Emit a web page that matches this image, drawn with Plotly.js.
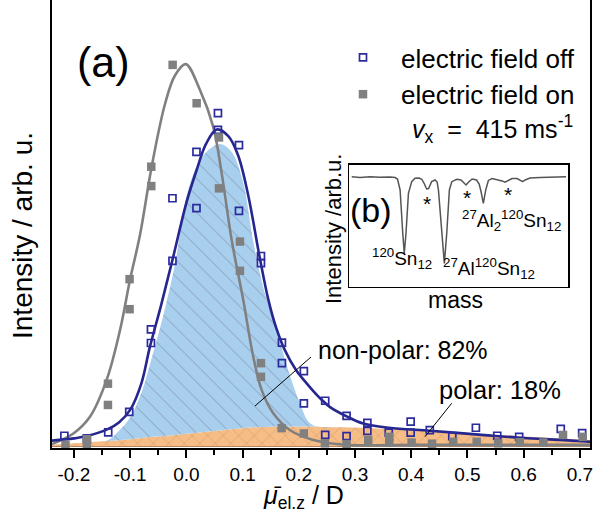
<!DOCTYPE html>
<html>
<head>
<meta charset="utf-8">
<script src="https://cdn.plot.ly/plotly-3.0.1.min.js"></script>
<style>
  html, body { margin: 0; padding: 0; background: #fff; }
  #chart { width: 593px; height: 517px; }
</style>
</head>
<body>
<div id="chart"></div>
<script>
// Deflection profiles: dipole moment (D) vs intensity (arb. u.)
const offX = [-0.217, -0.177, -0.139, -0.1016, -0.063, -0.063, -0.0247, -0.0247, 0.018, 0.018,
              0.0562, 0.0562, 0.0936, 0.0936, 0.1327, 0.1327, 0.170, 0.170, 0.209, 0.209,
              0.247, 0.247, 0.285, 0.285, 0.322, 0.322, 0.360, 0.399, 0.399, 0.433,
              0.473, 0.515, 0.553, 0.592, 0.666, 0.704];
const offY = [0.027, 0.020, 0.036, 0.090, 0.271, 0.307, 0.487, 0.652, 0.774, 0.626,
              0.876, 0.832, 0.792, 0.619, 0.500, 0.481, 0.272, 0.218, 0.197, 0.112,
              0.119, 0.029, 0.079, 0.026, 0.061, 0.040, 0.035, 0.064, 0.035, 0.042,
              0.026, 0.048, 0.027, 0.024, 0.045, 0.034];

const onX = [-0.215, -0.177, -0.177, -0.1395, -0.1395, -0.101, -0.101, -0.0624, -0.0624, -0.0244,
             0.0183, 0.058, 0.058, 0.0953, 0.0953, 0.1327, 0.1327, 0.1695, 0.209, 0.2465,
             0.285, 0.3235, 0.361, 0.361, 0.4007, 0.437, 0.4747, 0.5164, 0.5548, 0.593,
             0.635, 0.670, 0.705];
const onY = [0.003, 0.018, 0.003, 0.164, 0.108, 0.439, 0.360, 0.735, 0.684, 1.003,
             0.902, 0.812, 0.678, 0.538, 0.461, 0.218, 0.182, 0.047, 0.033, 0.007,
             0.005, 0.016, 0.024, 0.009, 0.009, 0.006, 0.011, 0.011, 0.007, 0.010,
             0.009, 0.029, 0.024];

// Fitted profiles
const fitOffX = [-0.239, -0.2, -0.177, -0.139, -0.12, -0.10, -0.08, -0.065, -0.045, -0.023,
                 0.0, 0.018, 0.035, 0.054, 0.075, 0.092, 0.11, 0.13, 0.146, 0.16,
                 0.175, 0.195, 0.214, 0.235, 0.255, 0.285, 0.315, 0.36, 0.433, 0.52,
                 0.60, 0.665, 0.718];
const fitOffY = [0.014, 0.020, 0.026, 0.045, 0.062, 0.095, 0.165, 0.26, 0.37, 0.50,
                 0.64, 0.725, 0.795, 0.833, 0.815, 0.765, 0.66, 0.50, 0.384, 0.31,
                 0.253, 0.20, 0.165, 0.13, 0.103, 0.078, 0.059, 0.048, 0.040, 0.030,
                 0.021, 0.016, 0.011];

const fitOnX = [-0.239, -0.201, -0.1715, -0.1418, -0.118, -0.1003, -0.0825, -0.0617, -0.038, -0.0203,
                -0.0012, 0.0242, 0.0478, 0.0628, 0.0806, 0.1012, 0.119, 0.134, 0.1546, 0.184,
                0.2257, 0.285, 0.40, 0.55, 0.718];
const fitOnY = [0.005, 0.033, 0.077, 0.174, 0.305, 0.437, 0.555, 0.735, 0.90, 0.975,
                1.005, 0.937, 0.84, 0.718, 0.542, 0.384, 0.235, 0.147, 0.086, 0.042,
                0.016, 0.003, 0.003, 0.003, 0.003];

// Decomposition into polar and non-polar parts (stacked)
const compX = [-0.239, -0.2, -0.16, -0.14, -0.12, -0.10, -0.08, -0.06, -0.04, -0.02,
               0.0, 0.02, 0.04, 0.06, 0.08, 0.10, 0.12, 0.14, 0.16, 0.18,
               0.20, 0.22, 0.24, 0.28, 0.34, 0.40, 0.46, 0.52, 0.58, 0.64, 0.718];
const polarY = [0.003, 0.007, 0.011, 0.013, 0.015, 0.018, 0.021, 0.024, 0.026, 0.029,
                0.032, 0.035, 0.038, 0.041, 0.044, 0.047, 0.049, 0.050, 0.051, 0.051,
                0.051, 0.051, 0.050, 0.049, 0.046, 0.042, 0.038, 0.032, 0.027, 0.022, 0.016];
const nonpolarY = [0, 0, 0, 0.002, 0.025, 0.057, 0.119, 0.216, 0.324, 0.451,
                   0.623, 0.705, 0.742, 0.754, 0.731, 0.653, 0.481, 0.350, 0.259, 0.154,
                   0.069, 0.009, 0, 0, 0, 0, 0, 0, 0, 0, 0];
const nonpolarShare = 82;
const polarShare = 18;

// Inset: mass spectrum
const massX = [1.1, 4.9, 9.5, 14.0, 18.6, 20.9, 22.0, 23.2, 24.4, 25.1,
               25.9, 27.0, 28.5, 30.0, 31.8, 33.1, 34.1, 35.3, 36.2, 37.6,
               39.2, 40.1, 40.7, 42.2, 43.4, 44.5, 45.7, 46.8, 49.1, 51.0,
               52.2, 53.3, 54.5, 56.1, 58.1, 59.3, 60.2, 61.2, 62.3, 63.5,
               65.2, 67.5, 69.8, 71.1, 72.5, 74.3, 76.6, 78.2, 79.2, 80.3,
               82.5, 87.1, 91.7, 96.3, 99.0];
const massY = [0.904, 0.897, 0.903, 0.899, 0.902, 0.897, 0.885, 0.795, 0.441, 0.274,
               0.441, 0.767, 0.863, 0.891, 0.893, 0.883, 0.852, 0.803, 0.807, 0.863,
               0.877, 0.860, 0.795, 0.439, 0.192, 0.439, 0.795, 0.863, 0.883, 0.877,
               0.856, 0.836, 0.860, 0.885, 0.877, 0.844, 0.778, 0.685, 0.795, 0.873,
               0.889, 0.881, 0.869, 0.858, 0.873, 0.889, 0.889, 0.877, 0.863, 0.877,
               0.893, 0.897, 0.901, 0.906, 0.903];

const tickVals = [-0.2, -0.1, 0.0, 0.1, 0.2, 0.3, 0.4, 0.5, 0.6, 0.7];
const tickText = ['-0.2', '-0.1', '0.0', '0.1', '0.2', '0.3', '0.4', '0.5', '0.6', '0.7'];
const minorVals = [-0.15, -0.05, 0.05, 0.15, 0.25, 0.35, 0.45, 0.55, 0.65];

// page geometry (plot area in px) for placing text and pointer lines
const W = 593, H = 517;
const M = { l: 52, r: 3, t: 0, b: 69 };
const PW = W - M.l - M.r, PH = H - M.t - M.b;
const px = x => (x - M.l) / PW;
const py = y => (M.t + PH - y) / PH;

const FONT = 'Liberation Sans, Arial, Helvetica, sans-serif';
const NAVY = '#26268f';
const GREY = '#808080';

const traces = [
  {
    x: compX, y: polarY, type: 'scatter', mode: 'lines', stackgroup: 'parts',
    line: { width: 0, shape: 'spline' }, fillcolor: '#f7bd86',
    fillpattern: { shape: 'x', fgcolor: 'rgba(150,105,70,0.55)', bgcolor: '#f7bd86', size: 11, solidity: 0.08 },
    showlegend: false, hoverinfo: 'skip'
  },
  {
    x: compX, y: nonpolarY, type: 'scatter', mode: 'lines', stackgroup: 'parts',
    line: { width: 0, shape: 'spline' }, fillcolor: '#a9cfef',
    fillpattern: { shape: '\\', fgcolor: 'rgba(105,115,130,0.65)', bgcolor: '#a9cfef', size: 12, solidity: 0.07 },
    showlegend: false, hoverinfo: 'skip'
  },
  {
    x: fitOnX, y: fitOnY, type: 'scatter', mode: 'lines',
    line: { color: GREY, width: 2.6, shape: 'spline' }, showlegend: false
  },
  {
    x: fitOffX, y: fitOffY, type: 'scatter', mode: 'lines',
    line: { color: NAVY, width: 2.6, shape: 'spline' }, showlegend: false
  },
  {
    x: offX, y: offY, type: 'scatter', mode: 'markers', name: 'electric field off',
    legendgroup: 'off',
    marker: { symbol: 'square-open', size: 7, color: '#2b2b9e', line: { width: 1.7, color: '#2b2b9e' } }
  },
  {
    x: onX, y: onY, type: 'scatter', mode: 'markers', name: 'electric field on',
    legendgroup: 'on',
    marker: { symbol: 'square', size: 8.5, color: GREY }
  },
  {
    x: massX, y: massY, xaxis: 'x2', yaxis: 'y2', type: 'scatter', mode: 'lines',
    line: { color: '#555555', width: 1.5 }, showlegend: false
  }
];

const ann = (x, y, text, size, extra) => Object.assign({
  xref: 'paper', yref: 'paper', x: px(x), y: py(y), text: text, showarrow: false,
  font: { family: FONT, size: size, color: '#000' }, xanchor: 'center', yanchor: 'middle'
}, extra || {});

const annotations = [
  ann(103, 62, '(a)', 43),
  ann(410, 129, '<i>v</i><sub>x</sub>\u00a0\u00a0=\u00a0\u00a0415 ms<sup>-1</sup>', 25, { xanchor: 'left' }),
  ann(316, 350, 'non-polar: ' + nonpolarShare + '%', 25, { xanchor: 'left' }),
  ann(437, 390, 'polar: ' + polarShare + '%', 25.5, { xanchor: 'left' }),
  ann(22, 236, 'Intensity / arb. u.', 28, { textangle: -90 }),
  ann(303, 497, '<i>\u03bc\u0304</i><sub>el.z</sub> / D', 25),
  // inset labels
  ann(371, 210, '(b)', 34),
  ann(333, 229, 'Intensity /arb.u.', 22, { textangle: -90 }),
  ann(455, 300, 'mass', 23),
  ann(402, 258, '<sup>120</sup>Sn<sub>12</sub>', 19),
  ann(489, 268, '<sup>27</sup>Al<sup>120</sup>Sn<sub>12</sub>', 19),
  ann(511, 220, '<sup>27</sup>Al<sub>2</sub><sup>120</sup>Sn<sub>12</sub>', 19),
  ann(427, 203, '*', 21),
  ann(467, 197, '*', 21),
  ann(508, 195, '*', 21)
];

const shapes = [
  // baseline of the polar part
  { type: 'line', xref: 'paper', yref: 'y', x0: 0, x1: 1, y0: 0, y1: 0,
    line: { color: '#9a5a2a', width: 1.5 }, layer: 'below' },
  // pointers for component labels
  { type: 'line', xref: 'paper', yref: 'paper', x0: px(311), y0: py(357), x1: px(255), y1: py(406),
    line: { color: '#000', width: 1 } },
  { type: 'line', xref: 'paper', yref: 'paper', x0: px(451.7), y0: py(403.3), x1: px(425), y1: py(436.7),
    line: { color: '#000', width: 1 } }
];

const layout = {
  width: W, height: H,
  margin: M,
  paper_bgcolor: '#fff', plot_bgcolor: 'rgba(0,0,0,0)',
  font: { family: FONT, color: '#000' },
  showlegend: true,
  legend: {
    x: px(325), y: py(34), xanchor: 'left', yanchor: 'top',
    font: { family: FONT, size: 26, color: '#000' },
    bgcolor: 'rgba(0,0,0,0)', itemwidth: 66, tracegroupgap: 0
  },
  xaxis: {
    range: [-0.239, 0.718], showline: true, linecolor: '#000', linewidth: 2,
    ticks: 'outside', ticklen: 8, tickwidth: 2, tickcolor: '#000',
    tickvals: tickVals, ticktext: tickText, tickfont: { family: FONT, size: 19, color: '#000' },
    ticklabeloverflow: 'allow',
    minor: { tickvals: minorVals, ticks: 'outside', ticklen: 5, tickwidth: 2, tickcolor: '#000', showgrid: false },
    showgrid: false, zeroline: false
  },
  yaxis: {
    range: [-0.0053, 1.1737], showline: true, mirror: true, linecolor: '#000', linewidth: 2,
    ticks: '', showticklabels: false, showgrid: false, zeroline: false
  },
  xaxis2: {
    domain: [px(349.3), px(568.3)], anchor: 'y2', range: [0, 100],
    showline: true, mirror: true, linecolor: '#000', linewidth: 1.6,
    ticks: '', showticklabels: false, showgrid: false, zeroline: false
  },
  yaxis2: {
    domain: [py(286.7), py(165)], anchor: 'x2', range: [0, 1],
    showline: true, mirror: true, linecolor: '#000', linewidth: 1.6,
    ticks: '', showticklabels: false, showgrid: false, zeroline: false
  },
  annotations: annotations,
  shapes: shapes
};

Plotly.newPlot('chart', traces, layout, { displayModeBar: false, staticPlot: true });
</script>
</body>
</html>
